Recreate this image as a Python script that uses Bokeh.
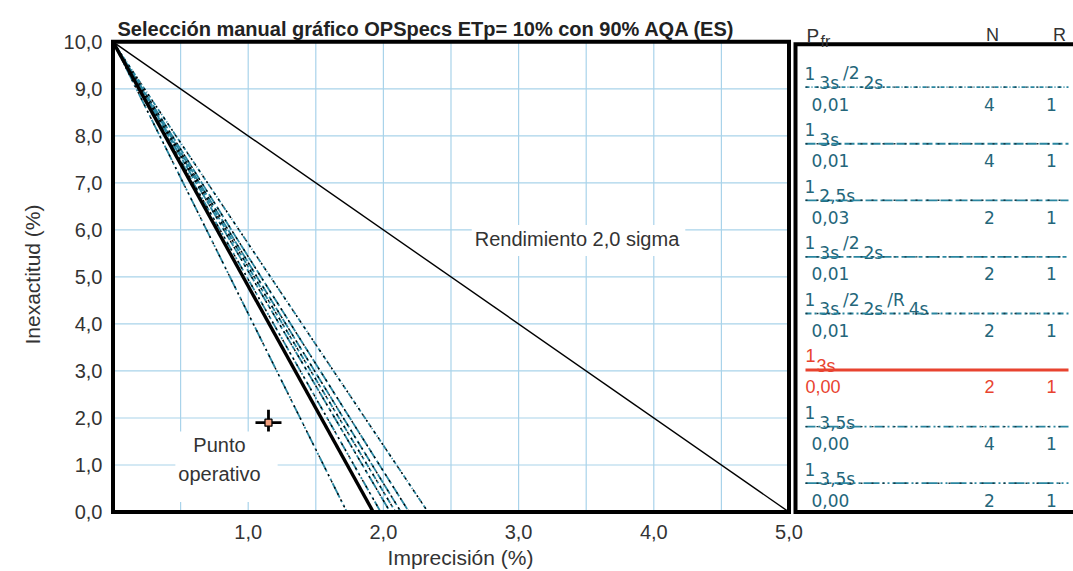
from bokeh.plotting import figure
from bokeh.models import Range1d, FixedTicker, Title
from bokeh.embed import file_html
from bokeh.resources import INLINE
from bokeh.core.properties import value

# ------------------------------------------------------------------ data
TEA = 10.0                       # ETp (%) : every OPSpecs line starts here
SIGMA2_INTERCEPT = 5.0           # "Rendimiento 2,0 sigma" line hits 0 at 5,0 %
rule_pieces = [                  # (text, 0 = raised part, 1 = lowered part)
    [("1", 0), ("3s", 1), ("/2", 0), ("2s", 1)],
    [("1", 0), ("3s", 1)],
    [("1", 0), ("2,5s", 1)],
    [("1", 0), ("3s", 1), ("/2", 0), ("2s", 1)],
    [("1", 0), ("3s", 1), ("/2", 0), ("2s", 1), ("/R", 0), ("4s", 1)],
    [("1", 0), ("3s", 1)],
    [("1", 0), ("3,5s", 1)],
    [("1", 0), ("3,5s", 1)],
]
p_fr = ["0,01", "0,01", "0,03", "0,01", "0,01", "0,00", "0,00", "0,00"]
n_runs = ["4", "4", "2", "2", "2", "2", "4", "2"]
r_runs = ["1", "1", "1", "1", "1", "1", "1", "1"]
max_imprecision = [2.33, 2.13, 2.19, 2.05, 2.09, 1.925, 1.98, 1.73]
SELECTED = 5
op_imprecision = [1.15]
op_inaccuracy = [1.9]
x_ticks = [1, 2, 3, 4, 5]
x_tick_labels = ["1,0", "2,0", "3,0", "4,0", "5,0"]
y_ticks = [0, 1, 2, 3, 4, 5, 6, 7, 8, 9, 10]
y_tick_labels = ["0,0", "1,0", "2,0", "3,0", "4,0", "5,0", "6,0", "7,0", "8,0", "9,0", "10,0"]
grid_x = [0.5, 1.0, 1.5, 2.0, 2.5, 3.0, 3.5, 4.0, 4.5]
grid_y = [1, 2, 3, 4, 5, 6, 7, 8, 9]

# ------------------------------------------------------------------ layout
W, H = 1073, 571
X0_PX, XS = 112.5, 135.2      # pixel of x=0, pixels per unit
Y0_PX, YS = 513.5, 47.2       # pixel of y=0, pixels per unit
FRAME_LEFT, FRAME_BOTTOM = 108, 516


def px2x(px):
    return (px - X0_PX) / XS


def px2y(py):
    return (Y0_PX - py) / YS


TEXT = "#333333"
TEAL = "#2a86a0"
RED = "#e8432f"
GRID = "#a9d3ea"
FONT = "Liberation Sans"

p = figure(width=W, height=H, output_backend="svg", toolbar_location=None,
           x_range=Range1d(px2x(FRAME_LEFT), px2x(W)),
           y_range=Range1d(px2y(FRAME_BOTTOM), px2y(0)),
           min_border_left=FRAME_LEFT, min_border_right=0,
           min_border_top=0, min_border_bottom=H - FRAME_BOTTOM)
p.outline_line_color = None
p.xgrid.grid_line_color = None
p.ygrid.grid_line_color = None

for ax, ticks, labels in ((p.xaxis[0], x_ticks, x_tick_labels), (p.yaxis[0], y_ticks, y_tick_labels)):
    ax.ticker = FixedTicker(ticks=ticks)
    ax.major_label_overrides = {t: l for t, l in zip(ticks, labels)}
    ax.axis_line_color = None
    ax.major_tick_line_color = None
    ax.minor_tick_line_color = None
    ax.major_tick_out = 0
    ax.major_tick_in = 0
    ax.minor_tick_out = 0
    ax.minor_tick_in = 0
    ax.major_label_text_font = FONT
    ax.major_label_text_font_size = "20px"
    ax.major_label_text_color = TEXT

p.xaxis.major_label_standoff = 10
p.yaxis.major_label_standoff = 6

XMAX, YMAX = x_ticks[-1], y_ticks[-1]

# axis titles, placed on the main chart (left-aligned with a pixel offset)
AX_FS = 21
xt = "Imprecisión (%)"
yt = "Inexactitud (%)"
xt_w = 6.945 * AX_FS
yt_w = 6.669 * AX_FS
p.add_layout(Title(text=xt, align="left", offset=460 - xt_w / 2 - FRAME_LEFT,
                   standoff=5, text_font=FONT, text_font_size=f"{AX_FS}px",
                   text_font_style="normal", text_color=TEXT), "below")
p.add_layout(Title(text=yt, align="left", offset=FRAME_BOTTOM - (276 + yt_w / 2),
                   standoff=30, vertical_align="top", text_font=FONT,
                   text_font_size=f"{AX_FS}px",
                   text_font_style="normal", text_color=TEXT), "left")

# grid of the main chart
p.segment(x0=grid_x, y0=[0] * len(grid_x), x1=grid_x, y1=[YMAX] * len(grid_x),
          line_color=GRID, line_width=1.2)
p.segment(x0=[0] * len(grid_y), y0=grid_y, x1=[XMAX] * len(grid_y), y1=grid_y,
          line_color=GRID, line_width=1.2)

dashes = ["4 2 1 2", "10 3", "12 3", "14 3 4 3", "6 3 2 3", "solid",
          "10 3 2 3 2 3", "16 3 2 3 2 3"]

# OPSpecs lines
for i, xi in enumerate(max_imprecision):
    if i == SELECTED:
        continue
    p.line(x=[0, xi], y=[TEA, 0], line_color=TEAL, line_width=1.8, line_dash=dashes[i])
    p.line(x=[0, xi], y=[TEA, 0], line_color="black", line_width=1.4, line_dash="2 5")
p.line(x=[0, max_imprecision[SELECTED]], y=[TEA, 0], line_color="black", line_width=3.4)

# 2,0 sigma line
p.line(x=[0, SIGMA2_INTERCEPT], y=[TEA, 0], line_color="black", line_width=1.4)

# operating point
p.scatter(x=op_imprecision, y=op_inaccuracy, marker="cross", size=26,
          line_color="black", line_width=2.8)
p.scatter(x=op_imprecision, y=op_inaccuracy, marker="square", size=7,
          fill_color="#f2a07e", line_color="black", line_width=1.3)

# annotations in the chart
p.text(x=[px2x(578)], y=[px2y(241)], text=["Rendimiento 2,0 sigma"],
       text_font=value(FONT), text_font_size="20px", text_color=TEXT,
       text_align="center", text_baseline="middle",
       background_fill_color="white", padding=(3, 6, 3, 6))
p.text(x=[px2x(226)], y=[px2y(468)], text=["Punto\noperativo"],
       text_font=value(FONT), text_font_size="20px", text_color=TEXT,
       text_align="center", text_baseline="middle", text_line_height=1.3,
       background_fill_color="white", padding=(3, 17, 3, 17))

# frame of the main chart
p.quad(left=[0], right=[XMAX], bottom=[0], top=[YMAX], fill_color=None,
       line_color="black", line_width=4, line_join="miter")

# title
p.text(x=[px2x(117)], y=[px2y(29)],
       text=["Selección manual gráfico OPSpecs ETp= 10% con 90% AQA (ES)"],
       text_font=value(FONT), text_font_size="20px", text_font_style="bold",
       text_color="#222222", text_baseline="alphabetic")

# ------------------------------------------------------------------ right panel
PX_X = px2x(795)
p.line(x=[px2x(W + 20), PX_X, PX_X, px2x(W + 20)], y=[px2y(44), px2y(44), 0, 0],
       line_color="black", line_width=4, line_join="miter")

p.text(x=[px2x(806)], y=[px2y(35)], text=["P"], text_font=value(FONT),
       text_font_size="19px", text_color=TEXT, text_baseline="alphabetic")
p.text(x=[px2x(820)], y=[px2y(41)], text=["fr"], text_font=value(FONT),
       text_font_size="16px", text_color=TEXT, text_baseline="alphabetic")
p.text(x=[px2x(992), px2x(1059)], y=[px2y(35)] * 2, text=["N", "R"],
       text_font=value(FONT), text_font_size="18px", text_color=TEXT,
       text_align="center", text_baseline="alphabetic")

EM_DV = {"0": .636, "1": .636, "2": .636, "3": .636, "4": .636, "5": .636,
         "s": .521, "/": .337, ",": .318, "R": .695}
EM_LS = {"0": .556, "1": .556, "2": .556, "3": .556, "4": .556, "5": .556,
         "s": .5, "/": .278, ",": .278, "R": .722}

ROW0_PX, ROW_STEP_PX = 87, 56.8
for i, pieces in enumerate(rule_pieces):
    ly_px = ROW0_PX + i * ROW_STEP_PX
    sel = i == SELECTED
    col = RED if sel else TEAL
    tcol = RED if sel else "#24667a"
    font = FONT if sel else "DejaVu Sans"
    fsize = 18 if sel else 17
    em = EM_LS if sel else EM_DV
    gap = 1 if sel else 4
    cursor = 805 if sel else 804
    for txt, low in pieces:
        base = ly_px - (4 if low else (15 if sel else 14))
        p.text(x=[px2x(cursor)], y=[px2y(base)], text=[txt], text_font=value(font),
               text_font_size=f"{fsize}px", text_color=tcol, text_baseline="alphabetic")
        cursor += sum(em[c] for c in txt) * fsize + gap
    if sel:
        p.line(x=[px2x(805), px2x(1068)], y=[px2y(ly_px)] * 2, line_color=col, line_width=3)
    else:
        p.line(x=[px2x(805), px2x(1068)], y=[px2y(ly_px)] * 2, line_color=col,
               line_width=1.8, line_dash=dashes[i])
        p.line(x=[px2x(805), px2x(1068)], y=[px2y(ly_px)] * 2, line_color="#1a3a44",
               line_width=1.4, line_dash="2 9")
    vy = px2y(ly_px + 17)
    p.text(x=[px2x(805 if sel else 811)], y=[vy], text=[p_fr[i]], text_font=value(font),
           text_font_size=f"{fsize}px", text_color=tcol, text_baseline="alphabetic")
    p.text(x=[px2x(989), px2x(1051)], y=[vy, vy], text=[n_runs[i], r_runs[i]],
           text_font=value(font), text_font_size=f"{fsize}px", text_color=tcol,
           text_align="center", text_baseline="alphabetic")

open("out.html", "w").write(file_html(p, INLINE))
